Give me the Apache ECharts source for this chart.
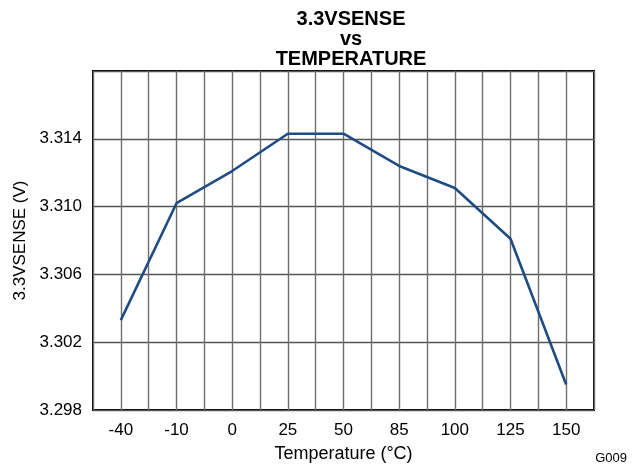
<!DOCTYPE html>
<html>
<head>
<meta charset="utf-8">
<script src="https://cdn.jsdelivr.net/npm/echarts@6/dist/echarts.min.js"></script>
<style>
  html, body { margin: 0; padding: 0; background: #fff; }
  #chart { width: 636px; height: 468px; }
</style>
</head>
<body>
<div id="chart"></div>
<script>
// data
const temps = ['-40', '-10', '0', '25', '50', '85', '100', '125', '150'];
const vsense = [3.3033, 3.3102, 3.3121, 3.3143, 3.3143, 3.3124, 3.3111, 3.3081, 3.2995];
const yBase = 3.298; // bottom of the y axis, ticks every 4 mV

const font = 'Liberation Sans, Arial, sans-serif';
const chart = echarts.init(document.getElementById('chart'));

// y values plotted as mV above the base so ticks land on 3.298, 3.302, ...
const points = vsense.map((v, i) => [i, +((v - yBase) * 1000).toFixed(2)]);

chart.setOption({
  animation: false,
  title: {
    text: '3.3VSENSE\nvs\nTEMPERATURE',
    left: 346,
    top: 4,
    textAlign: 'center',
    textStyle: { fontFamily: font, fontSize: 20, fontWeight: 'bold', color: '#000', lineHeight: 20 }
  },
  grid: {
    left: 93, right: 42, top: 71, bottom: 58,
    show: true, borderColor: '#000', borderWidth: 2
  },
  xAxis: {
    type: 'value',
    min: -0.5, max: 8.5, interval: 0.5,
    name: 'Temperature (°C)',
    nameLocation: 'middle',
    nameGap: 35,
    nameTextStyle: { fontFamily: font, fontSize: 18, color: '#000' },
    axisLine: { show: false },
    axisTick: { show: false },
    axisLabel: {
      fontFamily: font, fontSize: 17, color: '#000', margin: 12,
      showMinLabel: false, showMaxLabel: false,
      formatter: v => Number.isInteger(v) ? temps[v] : ''
    },
    splitLine: { show: true, lineStyle: { color: '#6e6e6e', width: 1.4 } }
  },
  yAxis: {
    type: 'value',
    min: 0, max: 20, interval: 4,
    name: '3.3VSENSE (V)',
    nameLocation: 'middle',
    nameRotate: 90,
    nameGap: 61,
    nameTextStyle: { fontFamily: font, fontSize: 17, color: '#000' },
    axisLine: { show: false },
    axisTick: { show: false },
    axisLabel: {
      fontFamily: font, fontSize: 17, color: '#000', margin: 11,
      showMaxLabel: false,
      formatter: v => (yBase + v / 1000).toFixed(3)
    },
    splitLine: { show: true, lineStyle: { color: '#555', width: 1.4 } }
  },
  series: [{
    type: 'line',
    data: points,
    showSymbol: false,
    lineStyle: { color: '#1f4c82', width: 2.6 }
  }],
  graphic: [{
    type: 'text',
    right: 9,
    top: 452,
    style: { text: 'G009', fontFamily: font, fontSize: 13, fill: '#000' }
  }]
});
</script>
</body>
</html>
